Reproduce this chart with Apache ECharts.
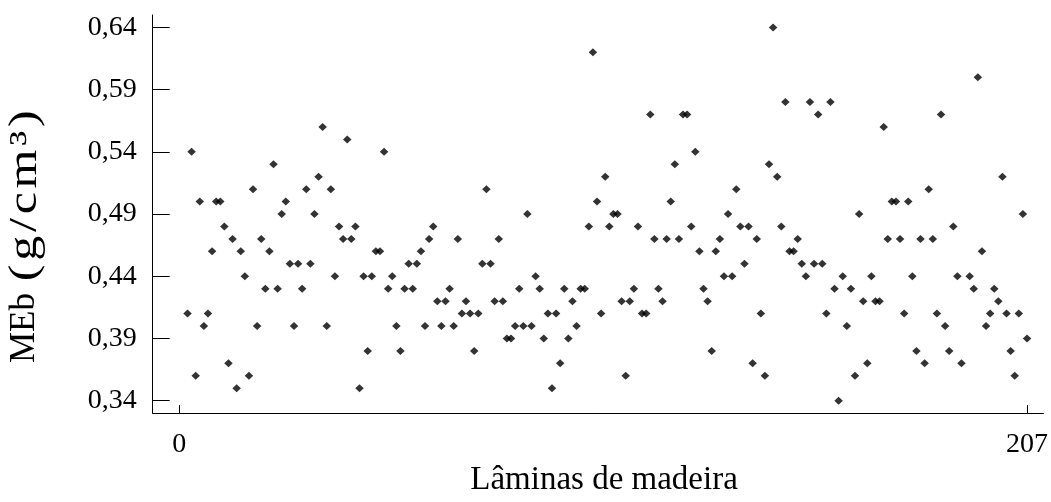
<!DOCTYPE html>
<html>
<head>
<meta charset="utf-8">
<script src="https://cdn.jsdelivr.net/npm/echarts@6/dist/echarts.min.js"></script>
<style>
  html, body { margin: 0; padding: 0; background: #fff; }
  #chart { width: 1051px; height: 502px; }
</style>
</head>
<body>
<div id="chart"></div>
<script>
// Basic density (MEb, g/cm³) of each wood lamina, laminas 1..207 (null = no reading)
const mebValues = [
  null, 0.41, 0.54, 0.36, 0.50, 0.40, 0.41, 0.46, 0.50, 0.50,
  0.48, 0.37, 0.47, 0.35, 0.46, 0.44, 0.36, 0.51, 0.40, 0.47,
  0.43, 0.46, 0.53, 0.43, 0.49, 0.50, 0.45, 0.40, 0.45, 0.43,
  0.51, 0.45, 0.49, 0.52, 0.56, 0.40, 0.51, 0.44, 0.48, 0.47,
  0.55, 0.47, 0.48, 0.35, 0.44, 0.38, 0.44, 0.46, 0.46, 0.54,
  0.43, 0.44, 0.40, 0.38, 0.43, 0.45, 0.43, 0.45, 0.46, 0.40,
  0.47, 0.48, 0.42, 0.40, 0.42, 0.43, 0.40, 0.47, 0.41, 0.42,
  0.41, 0.38, 0.41, 0.45, 0.51, 0.45, 0.42, 0.47, 0.42, 0.39,
  0.39, 0.40, 0.43, 0.40, 0.49, 0.40, 0.44, 0.43, 0.39, 0.41,
  0.35, 0.41, 0.37, 0.43, 0.39, 0.42, 0.40, 0.43, 0.43, 0.48,
  0.62, 0.50, 0.41, 0.52, 0.48, 0.49, 0.49, 0.42, 0.36, 0.42,
  0.43, 0.48, 0.41, 0.41, 0.57, 0.47, 0.43, 0.42, 0.47, 0.50,
  0.53, 0.47, 0.57, 0.57, 0.48, 0.54, 0.46, 0.43, 0.42, 0.38,
  0.46, 0.47, 0.44, 0.49, 0.44, 0.51, 0.48, 0.45, 0.48, 0.37,
  0.47, 0.41, 0.36, 0.53, 0.64, 0.52, 0.48, 0.58, 0.46, 0.46,
  0.47, 0.45, 0.44, 0.58, 0.45, 0.57, 0.45, 0.41, 0.58, 0.43,
  0.34, 0.44, 0.40, 0.43, 0.36, 0.49, 0.42, 0.37, 0.44, 0.42,
  0.42, 0.56, 0.47, 0.50, 0.50, 0.47, 0.41, 0.50, 0.44, 0.38,
  0.47, 0.37, 0.51, 0.47, 0.41, 0.57, 0.40, 0.38, 0.48, 0.44,
  0.37, null, 0.44, 0.43, 0.60, 0.46, 0.40, 0.41, 0.43, 0.42,
  0.52, 0.41, 0.38, 0.36, 0.41, 0.49, 0.39
];

const xTickValues = [0, 207];
const yTickValues = [0.34, 0.39, 0.44, 0.49, 0.54, 0.59, 0.64];

const xTitle = 'Lâminas de madeira';
const yTitleQuantity = 'MEb';
const yTitleUnit = '(g/cm³)';

const points = mebValues
  .map((v, i) => [i + 1, v])
  .filter(p => p[1] !== null);

const serif = '"Liberation Serif", "Times New Roman", serif';

// unit part of the vertical title, one rich token per character so it can be spaced slightly
const unitRichText = Array.from(yTitleUnit).map(ch => '{u|' + ch + '}').join('');

const chart = echarts.init(document.getElementById('chart'), null, { renderer: 'canvas' });

chart.setOption({
  backgroundColor: '#ffffff',
  animation: false,
  grid: { left: 152.7, right: 5, top: 15, bottom: 80.3 },
  xAxis: {
    type: 'value',
    min: -6.5,
    max: 211,
    name: xTitle,
    nameLocation: 'middle',
    nameGap: 47,
    nameTextStyle: { fontFamily: serif, fontSize: 33, color: '#000', padding: [0, 0, 0, 12] },
    axisLine: { show: true, onZero: false, lineStyle: { color: '#000', width: 1 } },
    axisTick: { show: true, inside: true, length: 8, customValues: xTickValues, lineStyle: { color: '#000' } },
    axisLabel: {
      customValues: xTickValues,
      margin: 18,
      fontFamily: serif, fontSize: 28, color: '#000',
      formatter: v => String(v)
    },
    splitLine: { show: false }
  },
  yAxis: {
    type: 'value',
    min: 0.33,
    max: 0.65,
    axisLine: { show: true, onZero: false, lineStyle: { color: '#000', width: 1 } },
    axisTick: { show: true, inside: true, length: 17, customValues: yTickValues, lineStyle: { color: '#000' } },
    axisLabel: {
      customValues: yTickValues,
      margin: 16,
      fontFamily: serif, fontSize: 28, color: '#000',
      formatter: v => v.toFixed(2).replace('.', ',')
    },
    splitLine: { show: false }
  },
  graphic: [{
    // vertical axis title, read bottom to top
    type: 'group',
    x: 25,
    y: 363,
    rotation: Math.PI / 2,
    children: [{
      type: 'text',
      x: 0,
      y: 0,
      style: {
        text: yTitleQuantity,
        fontFamily: serif, fontSize: 35, fill: '#000',
        align: 'left', verticalAlign: 'middle'
      }
    }, {
      type: 'text',
      x: 80,
      y: 0,
      scaleX: 1.25,
      style: {
        text: unitRichText,
        fontFamily: serif, fontSize: 40, fill: '#000',
        align: 'left', verticalAlign: 'middle',
        rich: {
          u: { fontFamily: serif, fontSize: 40, fill: '#000', padding: [0, 1.5, 0, 1.5] }
        }
      }
    }]
  }],
  series: [{
    type: 'scatter',
    data: points,
    symbol: 'diamond',
    symbolSize: [8.5, 8],
    itemStyle: { color: '#000' },
    silent: true
  }]
});
</script>
</body>
</html>
